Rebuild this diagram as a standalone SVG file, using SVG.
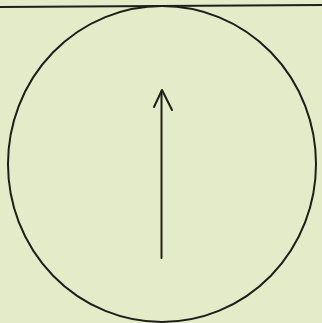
<svg xmlns="http://www.w3.org/2000/svg" width="322" height="323" viewBox="0 0 322 323">
<style>.ln{fill:none;stroke:#1e1e1a;stroke-width:2;stroke-linecap:round;stroke-linejoin:round}</style>
<rect width="322" height="323" fill="#e4ebc8"/>
<g id="topline"><path class="ln" d="M0 7 L322 5"/></g>
<g id="circle"><ellipse class="ln" cx="162" cy="164" rx="154" ry="158"/></g>
<g id="connectors"><path class="ln" d="M161.5 258 L161.5 91"/><path class="ln" d="M154 107 L162 90 L172 110"/></g>
</svg>
